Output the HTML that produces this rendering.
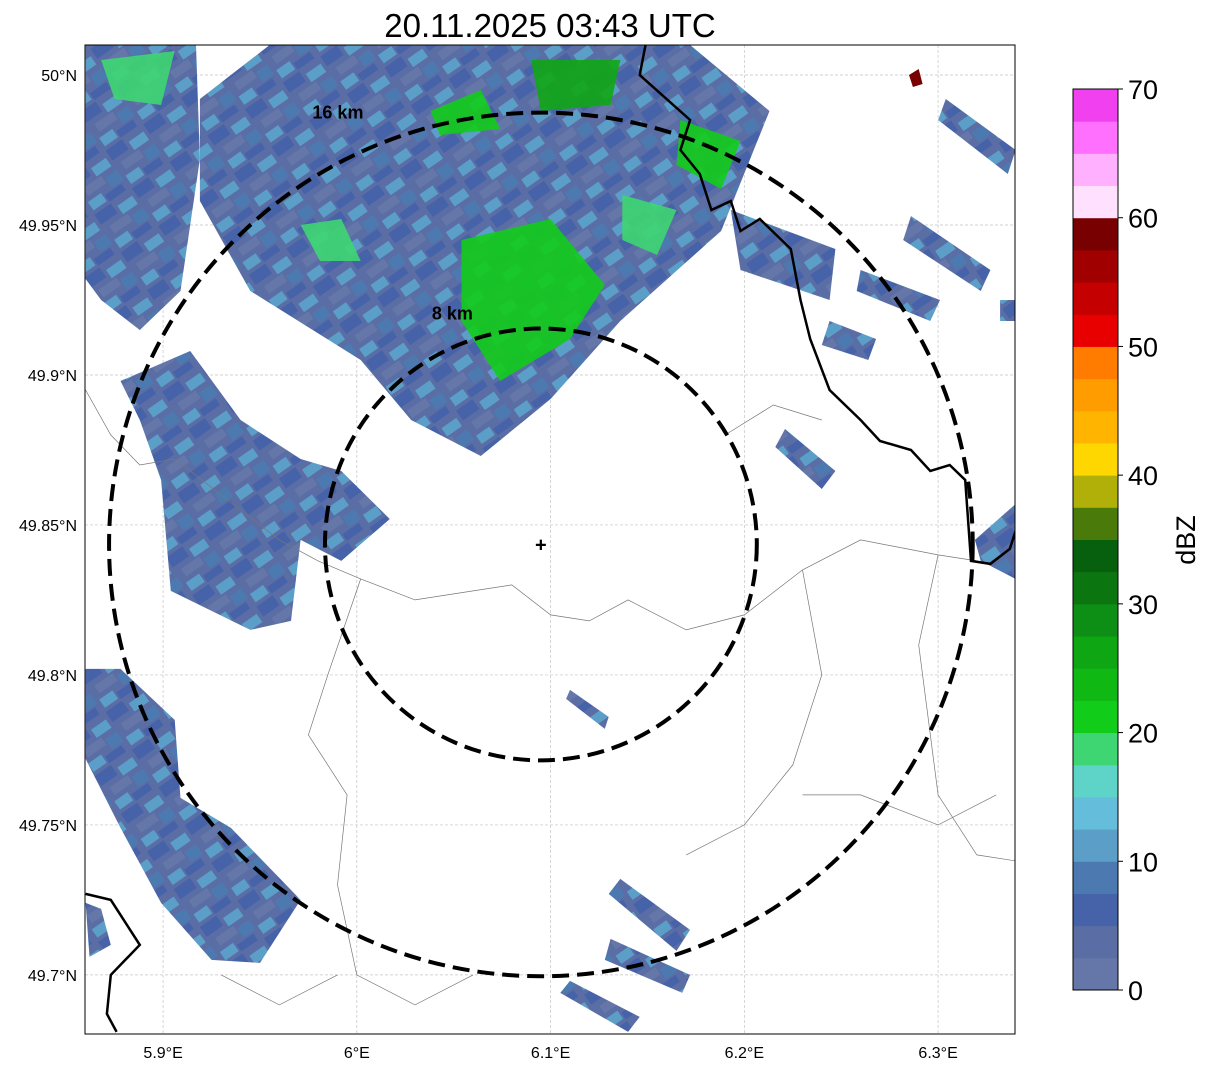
<!DOCTYPE html>
<html><head><meta charset="utf-8"><style>
body{margin:0;background:#fff;font-family:"Liberation Sans","DejaVu Sans",sans-serif}
svg text{font-family:"Liberation Sans","DejaVu Sans",sans-serif}
</style></head><body>
<svg id="c" width="1207" height="1069" xmlns="http://www.w3.org/2000/svg">
<defs>
<pattern id="echo" width="46" height="46" patternUnits="userSpaceOnUse" patternTransform="rotate(-35)">
<rect width="46" height="46" fill="#5a6ea5"/>
<rect x="0" y="0" width="20" height="12" fill="#4662a8"/>
<rect x="24" y="6" width="18" height="10" fill="#5b9fc9"/>
<rect x="6" y="18" width="22" height="9" fill="#6577a8"/>
<rect x="30" y="22" width="14" height="12" fill="#4c7ab0"/>
<rect x="2" y="32" width="16" height="10" fill="#5b9fc9"/>
<rect x="20" y="36" width="20" height="8" fill="#4662a8"/>
</pattern>
<clipPath id="axclip"><rect x="85" y="45" width="930" height="989"/></clipPath>
</defs>
<text x="550" y="37" text-anchor="middle" font-size="33">20.11.2025 03:43 UTC</text>
<g id="map" clip-path="url(#axclip)"></g>
<rect x="85" y="45" width="930" height="989" fill="none" stroke="#000" stroke-width="1"/>
<g id="axes"></g>
<g id="cbar"></g>
</svg>
<script>
const NS="http://www.w3.org/2000/svg";
const lonMin=5.8597, lonMax=6.3397, latMin=49.6803, latMax=50.0100;
const lonTicks=[5.9,6.0,6.1,6.2,6.3];
const lonLabels=["5.9°E","6°E","6.1°E","6.2°E","6.3°E"];
const latTicks=[50.0,49.95,49.9,49.85,49.8,49.75,49.7];
const latLabels=["50°N","49.95°N","49.9°N","49.85°N","49.8°N","49.75°N","49.7°N"];
const radarLon=6.095, radarLat=49.8435;
const ringKm=[8,16];
const ringLabels=["8 km","16 km"];
const ringLabelDx=[-0.41,-0.47];
const ringLabelDy=[-1.07,-1.00];
const cbarLevels=[0,2.5,5,7.5,10,12.5,15,17.5,20,22.5,25,27.5,30,32.5,35,37.5,40,42.5,45,47.5,50,52.5,55,57.5,60,62.5,65,67.5,70];
const cbarColors=["#6577a8","#5a6ea5","#4662a8","#4c7ab0","#5b9fc9","#64bedb","#5ed4c8","#3ed672","#12cc1a","#10b814","#0fa614","#0d8e14","#0b7610","#06600e","#4a7a0a","#b0b008","#ffd700","#ffb400","#ff9c00","#ff7c00","#e80000","#c40000","#a00000","#780000","#ffe0ff","#ffb0ff","#ff70ff","#f040f0"];
const cbarTicks=[0,10,20,30,40,50,60,70];
const echoRegions=[
 [[5.860,50.010],[5.917,50.010],[5.919,49.972],[5.909,49.928],[5.888,49.915],[5.868,49.925],[5.860,49.932]],
 [[5.919,49.992],[5.955,50.010],[6.172,50.010],[6.213,49.988],[6.188,49.948],[6.136,49.918],[6.100,49.892],[6.064,49.873],[6.028,49.885],[6.002,49.905],[5.945,49.928],[5.919,49.958]],
 [[5.878,49.898],[5.914,49.908],[5.940,49.885],[5.971,49.872],[5.992,49.868],[6.017,49.852],[5.992,49.838],[5.971,49.845],[5.966,49.818],[5.945,49.815],[5.904,49.828],[5.899,49.865],[5.888,49.885]],
 [[5.860,49.802],[5.878,49.802],[5.906,49.785],[5.909,49.759],[5.935,49.749],[5.971,49.725],[5.950,49.704],[5.925,49.705],[5.899,49.724],[5.878,49.749],[5.860,49.772]],
 [[5.860,49.724],[5.868,49.722],[5.873,49.710],[5.862,49.706]],
 [[6.110,49.795],[6.130,49.786],[6.128,49.782],[6.108,49.792]],
 [[6.136,49.732],[6.172,49.715],[6.165,49.708],[6.130,49.727]],
 [[6.131,49.712],[6.172,49.700],[6.168,49.694],[6.128,49.705]],
 [[6.110,49.698],[6.146,49.686],[6.140,49.681],[6.105,49.694]],
 [[6.193,49.955],[6.247,49.942],[6.244,49.925],[6.198,49.935]],
 [[6.260,49.935],[6.301,49.925],[6.296,49.918],[6.258,49.928]],
 [[6.221,49.882],[6.247,49.868],[6.240,49.862],[6.216,49.876]],
 [[6.286,49.953],[6.327,49.935],[6.322,49.928],[6.282,49.945]],
 [[6.304,49.992],[6.340,49.975],[6.336,49.967],[6.300,49.985]],
 [[6.319,49.845],[6.340,49.857],[6.340,49.832],[6.322,49.838]],
 [[6.332,49.925],[6.340,49.925],[6.340,49.918],[6.332,49.918]],
 [[6.244,49.918],[6.268,49.912],[6.264,49.905],[6.240,49.910]],
 [[6.285,50.000],[6.290,50.002],[6.292,49.997],[6.287,49.996]]
];
const echoDbz=[8,8,8,8,8,8,8,8,8,8,8,8,8,8,8,8,8,58];
const coreRegions=[
 [[6.054,49.945],[6.100,49.952],[6.128,49.930],[6.110,49.912],[6.074,49.898],[6.054,49.918]],
 [[6.090,50.005],[6.136,50.005],[6.131,49.990],[6.095,49.988]],
 [[6.167,49.985],[6.198,49.978],[6.188,49.962],[6.165,49.970]],
 [[5.971,49.950],[5.992,49.952],[6.002,49.938],[5.981,49.938]],
 [[6.038,49.988],[6.064,49.995],[6.074,49.982],[6.043,49.980]],
 [[5.868,50.005],[5.906,50.008],[5.899,49.990],[5.875,49.992]],
 [[6.137,49.960],[6.165,49.955],[6.155,49.940],[6.137,49.945]]
];
const coreDbz=[22,27,22,18,20,18,18];
const coast=[[6.149,50.010],[6.146,50.000],[6.172,49.985],[6.167,49.975],[6.177,49.967],[6.183,49.955],[6.193,49.958],[6.198,49.948],[6.208,49.952],[6.224,49.942],[6.229,49.925],[6.234,49.912],[6.244,49.895],[6.260,49.885],[6.270,49.878],[6.286,49.875],[6.296,49.868],[6.306,49.870],[6.314,49.865],[6.317,49.838],[6.327,49.837],[6.337,49.842],[6.340,49.848]];
const coast2=[[5.860,49.727],[5.873,49.725],[5.888,49.710],[5.873,49.700],[5.871,49.687],[5.876,49.681]];
const borders=[
 [[5.860,49.895],[5.873,49.880],[5.888,49.870],[5.906,49.872],[5.930,49.860],[5.960,49.845],[5.980,49.838],[6.002,49.832],[6.030,49.825],[6.060,49.828],[6.080,49.830],[6.100,49.820],[6.120,49.818],[6.140,49.825],[6.170,49.815],[6.200,49.820],[6.230,49.835],[6.260,49.845],[6.300,49.840],[6.320,49.838]],
 [[6.002,49.832],[5.985,49.800],[5.975,49.780],[5.995,49.760],[5.990,49.730],[6.000,49.700],[6.030,49.690],[6.060,49.700]],
 [[6.190,49.880],[6.215,49.890],[6.240,49.885]],
 [[6.230,49.835],[6.240,49.800],[6.225,49.770],[6.200,49.750],[6.170,49.740]],
 [[6.300,49.840],[6.290,49.810],[6.300,49.760],[6.320,49.740],[6.340,49.738]],
 [[5.930,49.700],[5.960,49.690],[5.990,49.700]],
 [[6.230,49.760],[6.260,49.760],[6.300,49.750],[6.330,49.760]]
];
const X0=85,X1=1015,Y0=45,Y1=1034;
const sx=v=>X0+(v-lonMin)/(lonMax-lonMin)*(X1-X0);
const sy=v=>Y0+(latMax-v)/(latMax-latMin)*(Y1-Y0);
const pxPerKm=(sx(radarLon+0.1)-sx(radarLon))/(0.1*111.32*Math.cos(radarLat*Math.PI/180));
const colorFor=d=>{for(let i=cbarLevels.length-2;i>=0;i--)if(d>=cbarLevels[i])return cbarColors[i];return cbarColors[0];};
const map=document.getElementById('map'),axes=document.getElementById('axes'),cb=document.getElementById('cbar');
function mk(tag,attrs,parent){const e=document.createElementNS(NS,tag);for(const k in attrs)e.setAttribute(k,attrs[k]);parent.appendChild(e);return e;}
const pts=p=>p.map(q=>sx(q[0]).toFixed(1)+','+sy(q[1]).toFixed(1)).join(' ');
lonTicks.forEach((t,i)=>{
 const g=mk('line',{x1:sx(t),x2:sx(t),y1:Y0,y2:Y1,stroke:'#c4c4c4','stroke-width':0.7,'stroke-dasharray':'3,2'},map);
 
 
 const tx=mk('text',{x:sx(t),y:1058,'text-anchor':'middle','font-size':16},axes);tx.textContent=lonLabels[i];
 
 
});
latTicks.forEach((t,i)=>{
 const g=mk('line',{x1:X0,x2:X1,y1:sy(t),y2:sy(t),stroke:'#c4c4c4','stroke-width':0.7,'stroke-dasharray':'3,2'},map);
 
 
 const tx=mk('text',{x:77,y:sy(t)+6,'text-anchor':'end','font-size':16},axes);tx.textContent=latLabels[i];
 
 
});
echoRegions.forEach((p,i)=>{
 const e=mk('polygon',{points:pts(p),fill:echoDbz[i]>=20?colorFor(echoDbz[i]):'url(#echo)'},map);
 
 
});
coreRegions.forEach((p,i)=>{
 const e=mk('polygon',{points:pts(p),fill:colorFor(coreDbz[i]),opacity:0.9},map);
 
 
});
borders.forEach(b=>{
 const e=mk('polyline',{points:pts(b),fill:'none',stroke:'#777','stroke-width':0.7},map);
 
 
});
[coast,coast2].forEach(c=>{
 const e=mk('polyline',{points:pts(c),fill:'none',stroke:'#000','stroke-width':2.5},map);
 
 
});
const cx=sx(radarLon),cy=sy(radarLat);
ringKm.forEach((k,i)=>{
 const r=k*pxPerKm;
 const c=mk('circle',{cx:cx,cy:cy,r:r,fill:'none',stroke:'#000','stroke-width':4,'stroke-dasharray':'17,8'},map);
 
 
 const t=mk('text',{x:cx+r*ringLabelDx[i],y:cy+r*ringLabelDy[i]+6,'text-anchor':'middle','font-size':18,'font-weight':'bold'},map);
 t.textContent=ringLabels[i];
 
 
});
const m=mk('text',{x:cx,y:cy+7,'text-anchor':'middle','font-size':20,'font-weight':'bold'},map);m.textContent='+';


const CB0=990,CB1=89,cbx=1073,cbw=45;
const cy2=v=>CB0-(v-cbarLevels[0])/(cbarLevels[cbarLevels.length-1]-cbarLevels[0])*(CB0-CB1);
cbarColors.forEach((col,i)=>{
 const r=mk('rect',{x:cbx,y:cy2(cbarLevels[i+1]),width:cbw,height:cy2(cbarLevels[i])-cy2(cbarLevels[i+1])+0.5,fill:col},cb);
 
 
});
const fr=mk('rect',{x:cbx,y:CB1,width:cbw,height:CB0-CB1,fill:'none',stroke:'#000','stroke-width':1},cb);


cbarTicks.forEach(t=>{
 mk('line',{x1:cbx+cbw,x2:cbx+cbw+5,y1:cy2(t),y2:cy2(t),stroke:'#000'},cb);
 const tx=mk('text',{x:1128,y:cy2(t)+10,'font-size':27},cb);tx.textContent=t;
 
 
});
const lab=mk('text',{x:1195,y:540,'text-anchor':'middle','font-size':27,transform:'rotate(-90 1195 540)'},cb);lab.textContent='dBZ';


</script>
</body></html>
